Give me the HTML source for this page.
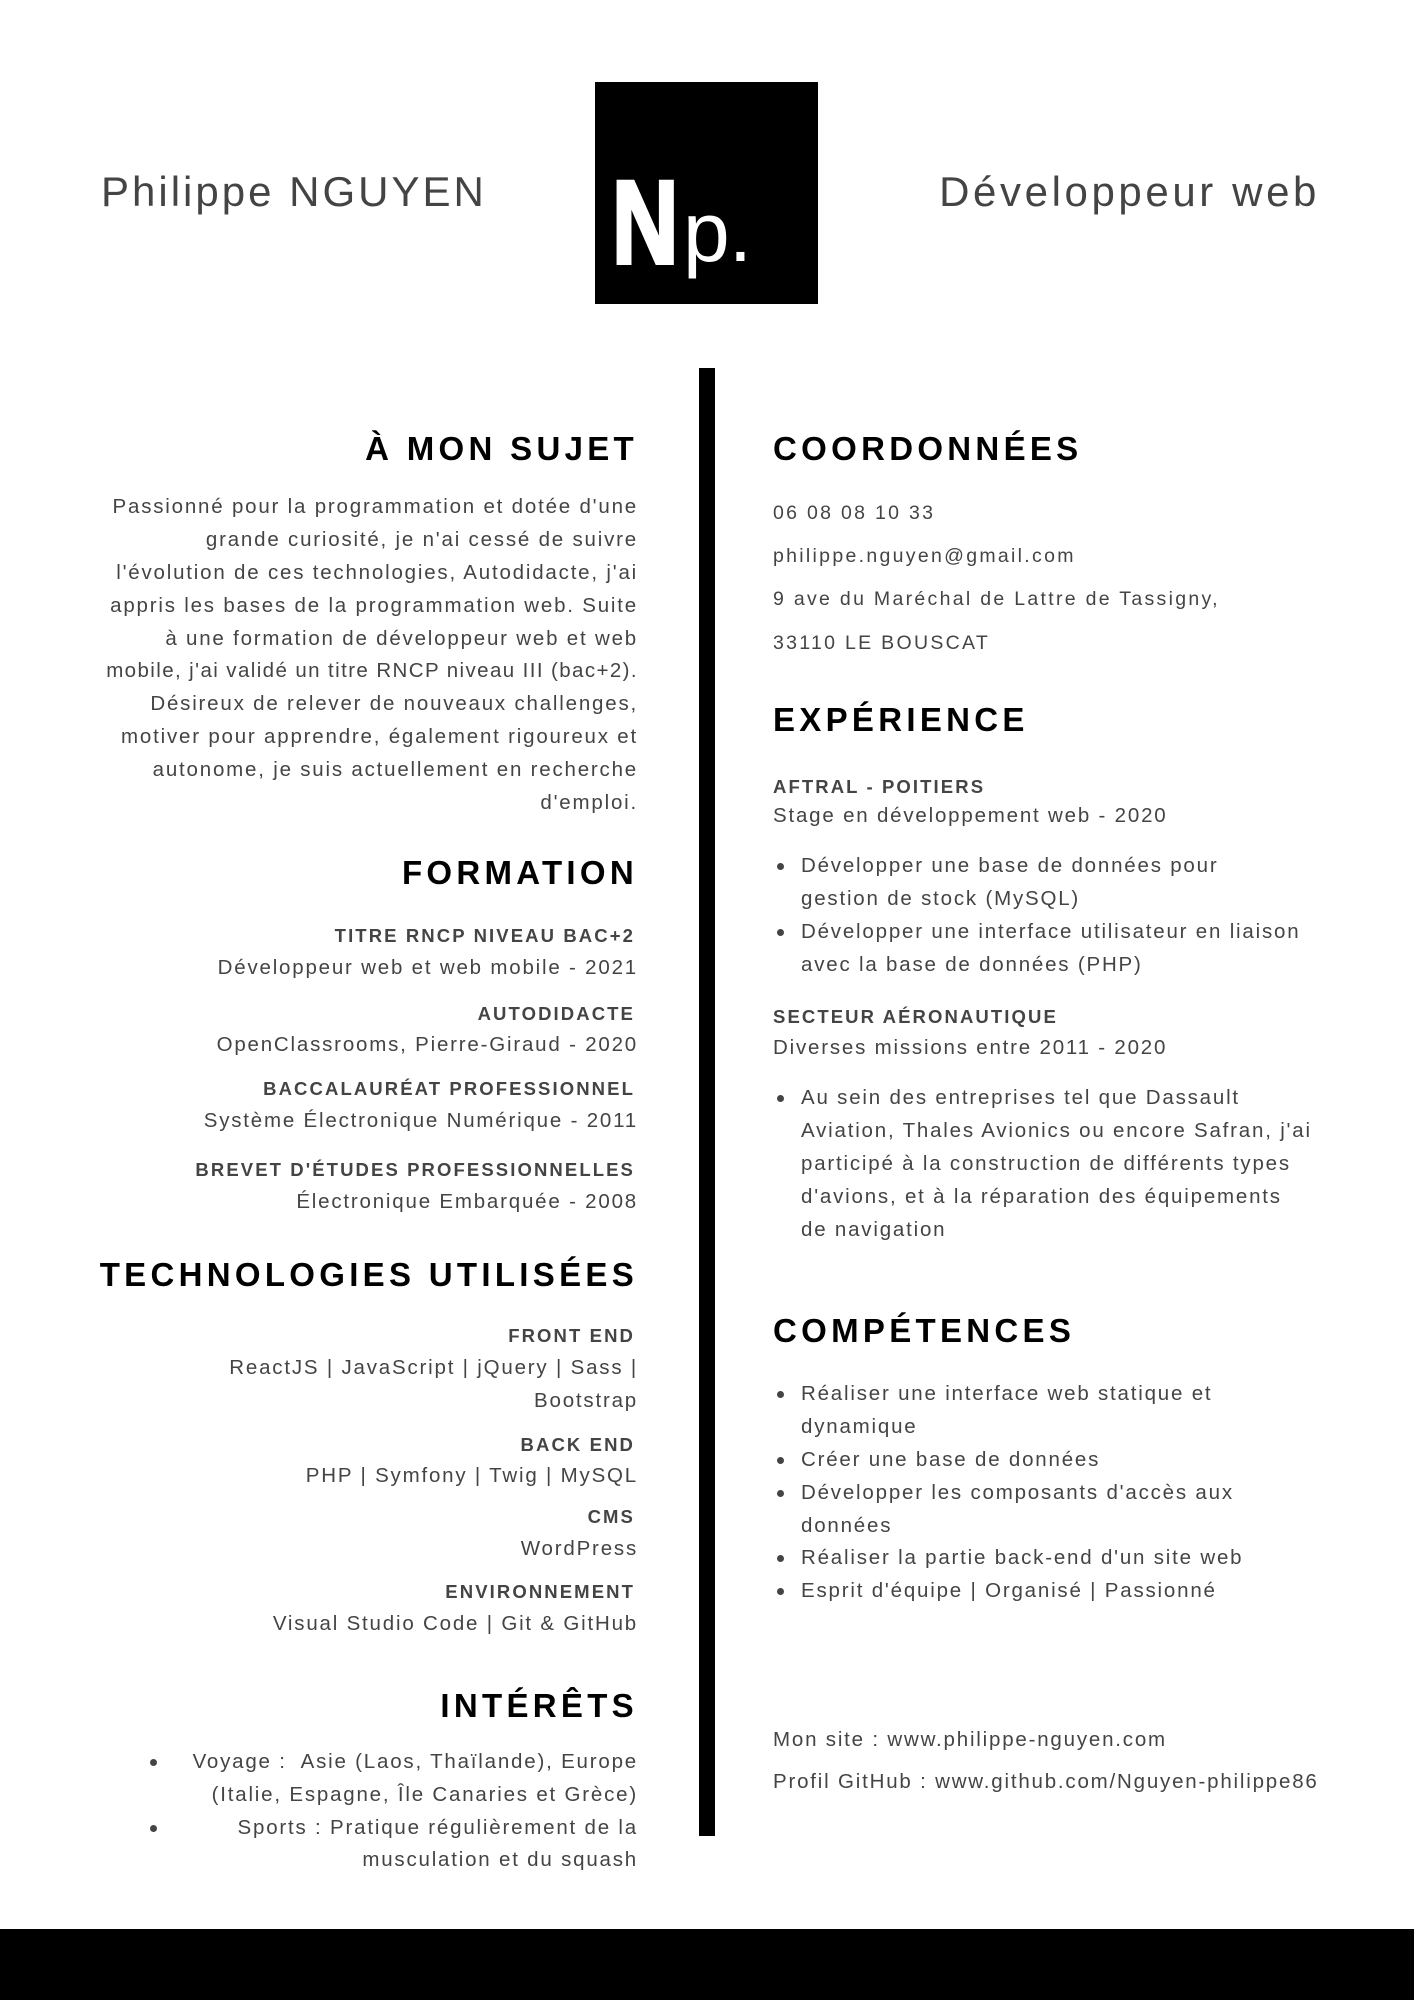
<!DOCTYPE html>
<html><head><meta charset="utf-8">
<style>
*{margin:0;padding:0;box-sizing:border-box}
html,body{width:1414px;height:2000px;background:#fff;overflow:hidden}
body{position:relative;font-family:"Liberation Sans",sans-serif;color:#444}
.t{position:absolute;white-space:nowrap;height:34px;line-height:34px;font-size:20.5px;letter-spacing:1.8px}
.R{right:776px;text-align:right}
.L{left:773px}
.h{font-weight:bold;color:#000;font-size:33px;letter-spacing:4.3px;height:44px;line-height:44px}
.b{font-weight:bold;color:#444;font-size:18.5px;letter-spacing:2.1px}
.c{font-size:19.5px;letter-spacing:2.3px}
.dot{position:absolute;width:7px;height:7px;border-radius:50%;background:#444}
</style></head><body>
<div class="t" style="left:101px;top:167px;height:50px;line-height:50px;font-size:42px;letter-spacing:3px">Philippe NGUYEN</div>
<div class="t" style="right:94px;top:167px;height:50px;line-height:50px;font-size:42px;letter-spacing:3.6px">Développeur web</div>
<div style="position:absolute;left:595px;top:82px;width:223px;height:222px;background:#000;overflow:hidden">
  <div style="position:absolute;left:17px;top:82px;font-weight:bold;font-size:118px;line-height:118px;color:#fff;-webkit-text-stroke:4px #fff;transform:scaleX(0.78);transform-origin:left top">N</div>
  <div style="position:absolute;left:88px;top:100px;font-size:84px;line-height:100px;color:#fff;letter-spacing:-1px">p.</div>
</div>
<div style="position:absolute;left:699px;top:368px;width:16px;height:1468px;background:#000"></div>
<div style="position:absolute;left:0;top:1929px;width:1414px;height:71px;background:#000"></div>

<!-- LEFT -->
<div class="t R h" style="top:427px">À MON SUJET</div>
<div class="t R" style="top:490px">Passionné pour la programmation et dotée d'une</div>
<div class="t R" style="top:523px">grande curiosité, je n'ai cessé de suivre</div>
<div class="t R" style="top:556px">l'évolution de ces technologies, Autodidacte, j'ai</div>
<div class="t R" style="top:589px">appris les bases de la programmation web. Suite</div>
<div class="t R" style="top:622px">à une formation de développeur web et web</div>
<div class="t R" style="top:654px;letter-spacing:1.4px">mobile, j'ai validé un titre RNCP niveau III (bac+2).</div>
<div class="t R" style="top:687px">Désireux de relever de nouveaux challenges,</div>
<div class="t R" style="top:720px">motiver pour apprendre, également rigoureux et</div>
<div class="t R" style="top:753px">autonome, je suis actuellement en recherche</div>
<div class="t R" style="top:786px">d'emploi.</div>

<div class="t R h" style="top:851px">FORMATION</div>
<div class="t R b" style="top:919px;right:779px">TITRE RNCP NIVEAU BAC+2</div>
<div class="t R" style="top:951px">Développeur web et web mobile - 2021</div>
<div class="t R b" style="top:997px;right:779px">AUTODIDACTE</div>
<div class="t R" style="top:1028px">OpenClassrooms, Pierre-Giraud - 2020</div>
<div class="t R b" style="top:1072px;right:779px">BACCALAURÉAT PROFESSIONNEL</div>
<div class="t R" style="top:1104px">Système Électronique Numérique - 2011</div>
<div class="t R b" style="top:1153px;right:779px">BREVET D'ÉTUDES PROFESSIONNELLES</div>
<div class="t R" style="top:1185px">Électronique Embarquée - 2008</div>

<div class="t R h" style="top:1253px">TECHNOLOGIES UTILISÉES</div>
<div class="t R b" style="top:1319px;right:779px">FRONT END</div>
<div class="t R" style="top:1351px">ReactJS | JavaScript | jQuery | Sass |</div>
<div class="t R" style="top:1384px">Bootstrap</div>
<div class="t R b" style="top:1428px;right:779px">BACK END</div>
<div class="t R" style="top:1459px">PHP | Symfony | Twig | MySQL</div>
<div class="t R b" style="top:1500px;right:779px">CMS</div>
<div class="t R" style="top:1532px">WordPress</div>
<div class="t R b" style="top:1575px;right:779px">ENVIRONNEMENT</div>
<div class="t R" style="top:1607px">Visual Studio Code | Git &amp; GitHub</div>

<div class="t R h" style="top:1684px">INTÉRÊTS</div>
<div class="dot" style="left:150px;top:1759px"></div>
<div class="t R" style="top:1745px">Voyage :&nbsp; Asie (Laos, Thaïlande), Europe</div>
<div class="t R" style="top:1778px">(Italie, Espagne, Île Canaries et Grèce)</div>
<div class="dot" style="left:150px;top:1825px"></div>
<div class="t R" style="top:1811px">Sports : Pratique régulièrement de la</div>
<div class="t R" style="top:1843px">musculation et du squash</div>

<!-- RIGHT -->
<div class="t L h" style="top:427px">COORDONNÉES</div>
<div class="t L c" style="top:496px">06 08 08 10 33</div>
<div class="t L c" style="top:539px">philippe.nguyen@gmail.com</div>
<div class="t L c" style="top:582px">9 ave du Maréchal de Lattre de Tassigny,</div>
<div class="t L c" style="top:626px">33110 LE BOUSCAT</div>

<div class="t L h" style="top:698px">EXPÉRIENCE</div>
<div class="t L b" style="top:770px">AFTRAL - POITIERS</div>
<div class="t L" style="top:799px">Stage en développement web - 2020</div>
<div class="dot" style="left:777px;top:863px"></div>
<div class="t L" style="left:801px;top:849px">Développer une base de données pour</div>
<div class="t L" style="left:801px;top:882px">gestion de stock (MySQL)</div>
<div class="dot" style="left:777px;top:929px"></div>
<div class="t L" style="left:801px;top:915px">Développer une interface utilisateur en liaison</div>
<div class="t L" style="left:801px;top:948px">avec la base de données (PHP)</div>
<div class="t L b" style="top:1000px">SECTEUR AÉRONAUTIQUE</div>
<div class="t L" style="top:1031px">Diverses missions entre 2011 - 2020</div>
<div class="dot" style="left:777px;top:1095px"></div>
<div class="t L" style="left:801px;top:1081px">Au sein des entreprises tel que Dassault</div>
<div class="t L" style="left:801px;top:1114px">Aviation, Thales Avionics ou encore Safran, j'ai</div>
<div class="t L" style="left:801px;top:1147px">participé à la construction de différents types</div>
<div class="t L" style="left:801px;top:1180px">d'avions, et à la réparation des équipements</div>
<div class="t L" style="left:801px;top:1213px">de navigation</div>

<div class="t L h" style="top:1309px">COMPÉTENCES</div>
<div class="dot" style="left:777px;top:1391px"></div>
<div class="t L" style="left:801px;top:1377px">Réaliser une interface web statique et</div>
<div class="t L" style="left:801px;top:1410px">dynamique</div>
<div class="dot" style="left:777px;top:1457px"></div>
<div class="t L" style="left:801px;top:1443px">Créer une base de données</div>
<div class="dot" style="left:777px;top:1490px"></div>
<div class="t L" style="left:801px;top:1476px">Développer les composants d'accès aux</div>
<div class="t L" style="left:801px;top:1509px">données</div>
<div class="dot" style="left:777px;top:1555px"></div>
<div class="t L" style="left:801px;top:1541px">Réaliser la partie back-end d'un site web</div>
<div class="dot" style="left:777px;top:1588px"></div>
<div class="t L" style="left:801px;top:1574px">Esprit d'équipe | Organisé | Passionné</div>

<div class="t L" style="top:1723px">Mon site : www.philippe-nguyen.com</div>
<div class="t L" style="top:1765px">Profil GitHub : www.github.com/Nguyen-philippe86</div>
</body></html>
